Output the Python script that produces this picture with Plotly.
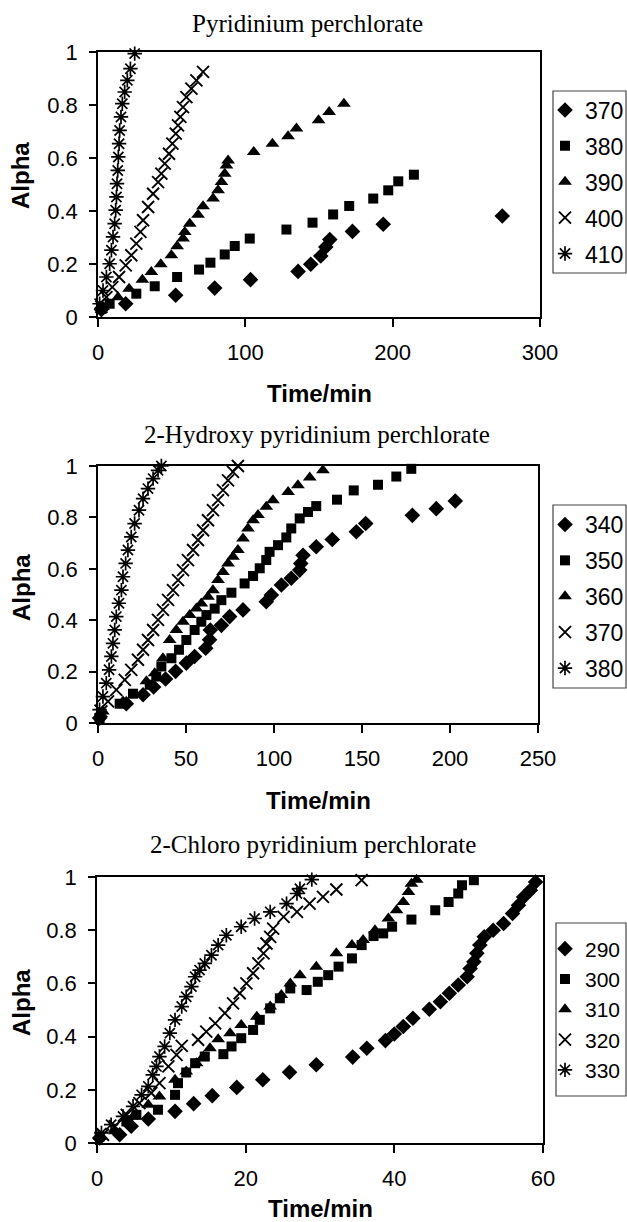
import plotly.graph_objects as go

W, H = 627, 1222

# ---------------- Data: Pyridinium perchlorate ----------------
p1_370_t = [2.3, 18.8, 52.7, 79.2, 103.5, 135.8, 144.4, 151.2, 154.6, 157.3, 172.7, 193.6, 274.4]
p1_370_a = [0.028, 0.05, 0.082, 0.109, 0.141, 0.172, 0.199, 0.23, 0.264, 0.292, 0.323, 0.35, 0.381]
p1_380_t = [2.3, 7.9, 26, 38.5, 53.7, 68.6, 76.3, 86, 92.8, 103, 127.9, 145.6, 159.6, 170.5, 186.8, 197, 203.8, 214.4]
p1_380_a = [0.031, 0.05, 0.088, 0.116, 0.151, 0.179, 0.205, 0.236, 0.268, 0.296, 0.33, 0.356, 0.387, 0.419, 0.447, 0.478, 0.512, 0.537]
p1_390_t = [3.4, 13.6, 21.1, 30.1, 36.2, 42.6, 49.8, 53.7, 57.7, 58.9, 62.3, 67.9, 71.3, 78.1, 81.5, 83.8, 86, 87.2, 88.3,
            105.7, 118.4, 129, 134.7, 149.7, 156.9, 166.9]
p1_390_a = [0.038, 0.075, 0.107, 0.141, 0.17, 0.199, 0.233, 0.267, 0.296, 0.321, 0.352, 0.386, 0.418, 0.447, 0.478, 0.509,
            0.541, 0.572, 0.591, 0.623, 0.654, 0.682, 0.711, 0.742, 0.774, 0.805]
p1_400_t = [2.3, 5.7, 9.7, 14.3, 18.8, 22.6, 26, 28.8, 30.6, 34, 37.4, 40.8, 43, 45.3, 48.2, 50.5, 52.8, 54.3, 55.9,
            57.7, 60, 63.4, 66.8, 71.3]
p1_400_a = [0.038, 0.075, 0.113, 0.151, 0.195, 0.233, 0.277, 0.321, 0.365, 0.415, 0.465, 0.509, 0.541, 0.579, 0.616,
            0.654, 0.692, 0.723, 0.755, 0.792, 0.83, 0.862, 0.893, 0.925]
p1_410_t = [1.1, 3.4, 5.7, 7.9, 9.1, 10.2, 11.3, 12, 12.5, 12.9, 13.4, 13.8, 14.3, 14.7, 15.6, 16.5, 18.1, 19.9, 22, 24.9]
p1_410_a = [0.05, 0.1, 0.151, 0.201, 0.252, 0.302, 0.352, 0.403, 0.453, 0.503, 0.553, 0.604, 0.654, 0.704, 0.755,
            0.805, 0.849, 0.893, 0.937, 0.994]

# ---------------- Data: 2-Hydroxy pyridinium perchlorate ----------------
p2_340_t = [0.9, 16.1, 25.6, 31.6, 38.4, 44.1, 50.2, 54.9, 61.2, 63.4, 63.8, 70.1, 74.8, 82.4, 95.6, 98.5, 104.2,
            109.8, 114.6, 115.2, 116.5, 124, 133.1, 146.8, 152.1, 178.6, 192.2, 203]
p2_340_a = [0.019, 0.075, 0.11, 0.14, 0.171, 0.201, 0.233, 0.259, 0.291, 0.324, 0.362, 0.38, 0.414, 0.44, 0.472,
            0.498, 0.537, 0.563, 0.595, 0.621, 0.653, 0.686, 0.714, 0.744, 0.776, 0.808, 0.834, 0.864]
p2_350_t = [0.9, 12.3, 19.9, 29.4, 33.1, 36, 41.7, 46, 50.2, 54.9, 58.7, 61.6, 66.3, 70.1, 75.8, 83.3, 88.1, 91.9,
            95.6, 97.5, 102.3, 107, 109.8, 114.6, 119.3, 124, 135.8, 145.3, 159.1, 169.5, 178]
p2_350_a = [0.019, 0.075, 0.114, 0.149, 0.181, 0.22, 0.252, 0.285, 0.323, 0.362, 0.394, 0.42, 0.445, 0.478, 0.507,
            0.543, 0.572, 0.602, 0.634, 0.666, 0.692, 0.722, 0.757, 0.796, 0.821, 0.844, 0.869, 0.905, 0.927, 0.959, 0.989]
p2_360_t = [2.8, 14.2, 27.5, 32.2, 36.9, 40.7, 44.5, 48.3, 52.1, 55.9, 58.7, 62.5, 65.3, 68.2, 71, 73.9, 76.7, 79.5,
            82.4, 85.2, 88.1, 90.9, 95.6, 99.4, 108, 113.6, 120.3, 127.8]
p2_360_a = [0.045, 0.084, 0.162, 0.194, 0.252, 0.323, 0.362, 0.394, 0.42, 0.446, 0.465, 0.491, 0.517, 0.556, 0.588,
            0.621, 0.647, 0.673, 0.718, 0.757, 0.789, 0.809, 0.841, 0.867, 0.899, 0.925, 0.955, 0.983]
p2_370_t = [1.9, 5.7, 10.4, 15.2, 18.9, 22.7, 25.6, 28.4, 31.3, 34.1, 36.9, 39.8, 42.6, 45.5, 48.3, 51.1, 54, 56.8,
            59.7, 62.5, 65.3, 68.2, 71, 73.9, 76.7, 79.5]
p2_370_a = [0.045, 0.084, 0.129, 0.168, 0.207, 0.246, 0.285, 0.323, 0.362, 0.401, 0.44, 0.479, 0.517, 0.556, 0.595,
            0.634, 0.673, 0.712, 0.75, 0.789, 0.828, 0.867, 0.906, 0.944, 0.977, 1.0]
p2_380_t = [0.9, 2.8, 4.7, 6.3, 7.6, 8.5, 9.5, 10.4, 11.9, 13.3, 14.2, 15.7, 17, 18.9, 20.8, 23.3, 25.6, 28.4, 31.3,
            34.1, 36]
p2_380_a = [0.052, 0.103, 0.155, 0.207, 0.259, 0.31, 0.362, 0.414, 0.466, 0.517, 0.569, 0.621, 0.673, 0.724, 0.776,
            0.828, 0.873, 0.912, 0.951, 0.983, 1.0]

# ---------------- Data: 2-Chloro pyridinium perchlorate ----------------
p3_290_t = [0.36, 3.05, 4.6, 6.9, 10.5, 13, 15.5, 18.8, 22.3, 25.9, 29.5, 34.4, 36.3, 38.8, 40, 41.2, 42.5, 44.7,
            46.2, 47.4, 48.6, 49.8, 50.2, 50.7, 51.1, 51.5, 52.1, 53.3, 54.7, 55.9, 56.7, 57.4, 58.3, 59]
p3_290_a = [0.019, 0.031, 0.063, 0.09, 0.119, 0.148, 0.178, 0.209, 0.238, 0.266, 0.294, 0.323, 0.356, 0.385, 0.41,
            0.438, 0.469, 0.503, 0.531, 0.563, 0.594, 0.625, 0.656, 0.681, 0.713, 0.744, 0.775, 0.8, 0.825, 0.863,
            0.894, 0.925, 0.95, 0.981]
p3_300_t = [0.36, 3.95, 5.3, 8.2, 10.5, 10.9, 12, 13.2, 14.5, 17, 18.1, 19.4, 21, 21.9, 23.3, 24.6, 26, 28.2, 29.7,
            31.1, 32.5, 34.3, 35.6, 37.2, 38.5, 39.7, 42.3, 45.5, 47.3, 48.6, 49.1, 50.7]
p3_300_a = [0.025, 0.081, 0.106, 0.125, 0.181, 0.225, 0.265, 0.3, 0.325, 0.334, 0.363, 0.394, 0.425, 0.463, 0.506,
            0.544, 0.581, 0.575, 0.606, 0.631, 0.663, 0.694, 0.744, 0.778, 0.788, 0.813, 0.84, 0.875, 0.906, 0.938,
            0.969, 0.988]
p3_310_t = [0.36, 2.4, 4.85, 6.9, 8.4, 10.5, 12, 13.4, 14.3, 15.2, 16.3, 17.9, 19.4, 21.5, 23.3, 24.8, 26, 27.3,
            29.5, 32.2, 34.3, 35.8, 37.4, 39.2, 40.3, 41.2, 41.9, 42.3, 43]
p3_310_a = [0.023, 0.044, 0.1, 0.144, 0.175, 0.238, 0.269, 0.3, 0.325, 0.356, 0.39, 0.413, 0.444, 0.475, 0.513,
            0.556, 0.6, 0.631, 0.663, 0.713, 0.744, 0.763, 0.8, 0.844, 0.875, 0.906, 0.944, 0.975, 0.99]
p3_320_t = [0.8, 2.4, 4, 5.7, 7.3, 8.4, 9.6, 10.7, 11.4, 13.6, 14.7, 15.9, 17.2, 18.3, 19.2, 20.1, 21, 21.7, 22.4,
            22.8, 23.3, 23.7, 25.1, 26.9, 28.6, 30.4, 32.2, 35.6]
p3_320_a = [0.031, 0.063, 0.106, 0.15, 0.188, 0.225, 0.288, 0.331, 0.365, 0.388, 0.419, 0.45, 0.488, 0.525, 0.563,
            0.6, 0.638, 0.675, 0.713, 0.75, 0.775, 0.806, 0.85, 0.869, 0.9, 0.925, 0.953, 0.988]
p3_330_t = [0.6, 1.9, 3.5, 4.85, 6, 6.9, 7.5, 8, 8.4, 9.1, 9.8, 10.5, 11.4, 12, 12.7, 13.2, 13.8, 14.5, 15.4, 16.3,
            17.4, 19.4, 21.2, 23.3, 25.5, 26.9, 27.3, 28.9]
p3_330_a = [0.038, 0.069, 0.1, 0.138, 0.181, 0.213, 0.256, 0.288, 0.325, 0.363, 0.413, 0.463, 0.513, 0.55, 0.588,
            0.625, 0.65, 0.675, 0.706, 0.744, 0.781, 0.813, 0.844, 0.869, 0.9, 0.938, 0.956, 0.99]

panels = [
    dict(title="Pyridinium perchlorate",
         series=[("370", p1_370_t, p1_370_a), ("380", p1_380_t, p1_380_a), ("390", p1_390_t, p1_390_a),
                 ("400", p1_400_t, p1_400_a), ("410", p1_410_t, p1_410_a)],
         xrange=[0, 300], dtick=100,
         box=(98, 52, 540, 317), title_xy=(307, 24), xlab_y=393, alpha_y=176,
         leg=(553, 91, 626, 273), leg_font=23, leg_gap=3),
    dict(title="2-Hydroxy pyridinium perchlorate",
         series=[("340", p2_340_t, p2_340_a), ("350", p2_350_t, p2_350_a), ("360", p2_360_t, p2_360_a),
                 ("370", p2_370_t, p2_370_a), ("380", p2_380_t, p2_380_a)],
         xrange=[0, 250], dtick=50,
         box=(98, 466, 538, 723), title_xy=(317, 434), xlab_y=800, alpha_y=588,
         leg=(553, 505, 626, 688), leg_font=23, leg_gap=3),
    dict(title="2-Chloro pyridinium perchlorate",
         series=[("290", p3_290_t, p3_290_a), ("300", p3_300_t, p3_300_a), ("310", p3_310_t, p3_310_a),
                 ("320", p3_320_t, p3_320_a), ("330", p3_330_t, p3_330_a)],
         xrange=[0, 60], dtick=20,
         box=(97, 877, 543, 1143), title_xy=(313, 844), xlab_y=1208, alpha_y=1003,
         leg=(556, 923, 626, 1096), leg_font=21, leg_gap=0),
]

symbols = [
    dict(symbol="diamond", size=12, lw=0),
    dict(symbol="square", size=10, lw=0),
    dict(symbol="triangle-up", size=12, lw=0),
    dict(symbol="x-thin-open", size=12, lw=1.9),
    dict(symbol="asterisk-open", size=12, lw=1.7),
]

def px(x):
    return x / W

def py(y):
    return 1 - y / H

fig = go.Figure()
annotations = []
shapes = []
layout = {}

for i, p in enumerate(panels):
    k = "" if i == 0 else str(i + 1)
    xa, ya = "x" + k, "y" + k
    legname = "legend" + k
    for j, (name, t, a) in enumerate(p["series"]):
        s = symbols[j]
        fig.add_trace(go.Scatter(
            x=t, y=a, mode="markers", name=name, xaxis=xa, yaxis=ya,
            legend=legname, legendgroup=f"g{i}_{j}", cliponaxis=False,
            marker=dict(symbol=s["symbol"], size=s["size"], color="black",
                        line=dict(color="black", width=s["lw"])),
        ))
    l, t_, r, b = p["box"]
    layout["xaxis" + k] = dict(
        domain=[px(l), px(r)], anchor=ya, range=p["xrange"], dtick=p["dtick"], tick0=0,
        showline=True, linecolor="black", linewidth=1.6, mirror=True,
        ticks="outside", ticklen=8, tickwidth=1.6, tickcolor="black",
        showgrid=False, zeroline=False, ticklabelstandoff=7,
        tickfont=dict(family="Liberation Sans", size=22, color="black"),
    )
    layout["yaxis" + k] = dict(
        domain=[py(b), py(t_)], anchor=xa, range=[0, 1], dtick=0.2, tick0=0,
        showline=True, linecolor="black", linewidth=1.6, mirror=True,
        ticks="outside", ticklen=7, tickwidth=1.6, tickcolor="black",
        showgrid=False, zeroline=False, ticklabelstandoff=7,
        tickfont=dict(family="Liberation Sans", size=22, color="black"),
    )
    ll, lt, lr, lb = p["leg"]
    layout[legname] = dict(
        x=px(545), xanchor="left", y=py((lt + lb) / 2), yanchor="middle",
        bgcolor="rgba(0,0,0,0)", borderwidth=0, traceorder="grouped",
        tracegroupgap=p["leg_gap"], itemwidth=30,
        font=dict(family="Liberation Sans", size=p["leg_font"], color="black"),
    )
    shapes.append(dict(type="rect", xref="paper", yref="paper",
                       x0=px(ll), x1=px(lr), y0=py(lb), y1=py(lt),
                       line=dict(color="#444", width=1.2), fillcolor="rgba(0,0,0,0)"))
    tx, ty = p["title_xy"]
    annotations.append(dict(text=p["title"], x=px(tx), y=py(ty), xref="paper", yref="paper",
                            showarrow=False, xanchor="center", yanchor="middle",
                            font=dict(family="Liberation Serif", size=25, color="black")))
    annotations.append(dict(text="<b>Time/min</b>", x=px((l + r) / 2), y=py(p["xlab_y"]),
                            xref="paper", yref="paper", showarrow=False,
                            xanchor="center", yanchor="middle",
                            font=dict(family="Liberation Sans", size=24, color="black")))
    annotations.append(dict(text="<b>Alpha</b>", x=px(21), y=py(p["alpha_y"]),
                            xref="paper", yref="paper", showarrow=False, textangle=-90,
                            xanchor="center", yanchor="middle",
                            font=dict(family="Liberation Sans", size=24, color="black")))

fig.update_layout(
    width=W, height=H, margin=dict(l=0, r=0, t=0, b=0, autoexpand=False),
    paper_bgcolor="white", plot_bgcolor="white",
    showlegend=True, annotations=annotations, shapes=shapes, **layout,
)

fig.write_html("out.html", config={"displayModeBar": False},
               post_script="document.body.style.margin='0';document.body.style.overflow='hidden';")
